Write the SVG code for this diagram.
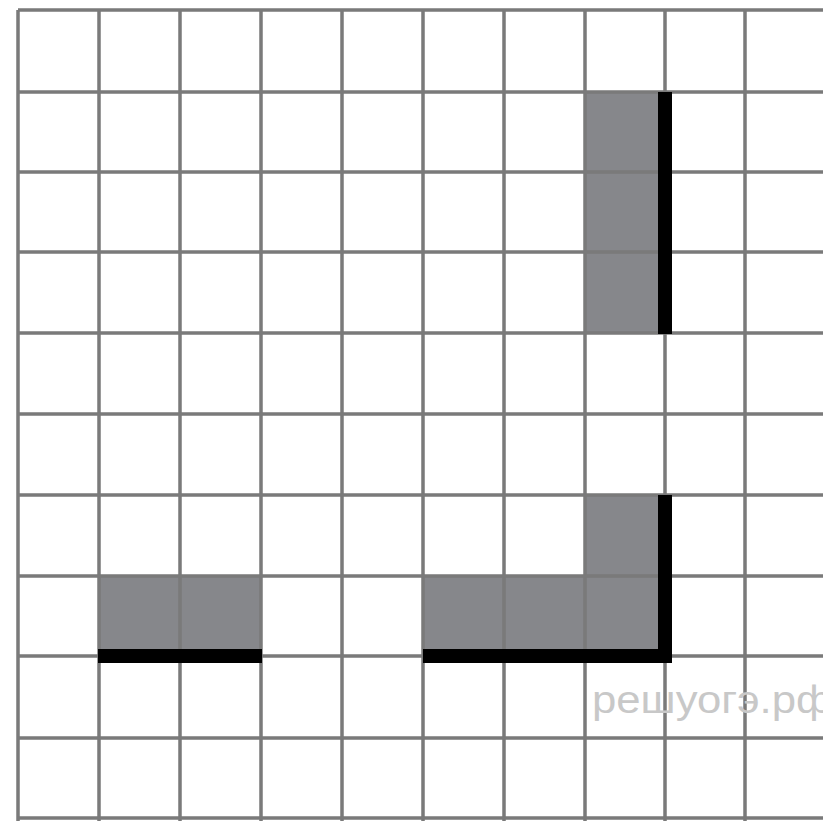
<svg xmlns="http://www.w3.org/2000/svg" width="823" height="821" viewBox="0 0 823 821">
<style>
.g{stroke:#7a7a7a;stroke-width:3.5;fill:none}
.s{fill:#86878b}
.b{stroke:#000;stroke-width:14;fill:none;stroke-linecap:square}
.w{font-family:"Liberation Sans",Arial,sans-serif;font-size:38px;fill:#c8c8c8}
</style>
<rect width="823" height="821" fill="#fff"/>
<g id="shapes">
<rect class="s" x="99" y="576" width="162" height="80"/>
<rect class="s" x="423" y="576" width="242" height="80"/>
<rect class="s" x="585" y="495" width="80" height="81"/>
<rect class="s" x="585" y="92" width="80" height="241"/>
</g>
<g id="grid">
<path class="g" d="M18 10V821M99 10V821M180 10V821M261 10V821M342 10V821M423 10V821M504 10V821M585 10V821M665 10V821M745 10V821"/>
<path class="g" d="M18 10H823M18 92H823M18 172H823M18 252H823M18 333H823M18 414H823M18 495H823M18 576H823M18 656H823M18 738H823M18 818H823"/>
</g>
<g id="edges">
<path class="b" d="M105 656H255"/>
<path class="b" d="M430 656H665V502"/>
<path class="b" d="M665 99V327"/>
</g>
<text class="w" x="592" y="713" textLength="240" lengthAdjust="spacingAndGlyphs">решуогэ.рф</text>
</svg>
